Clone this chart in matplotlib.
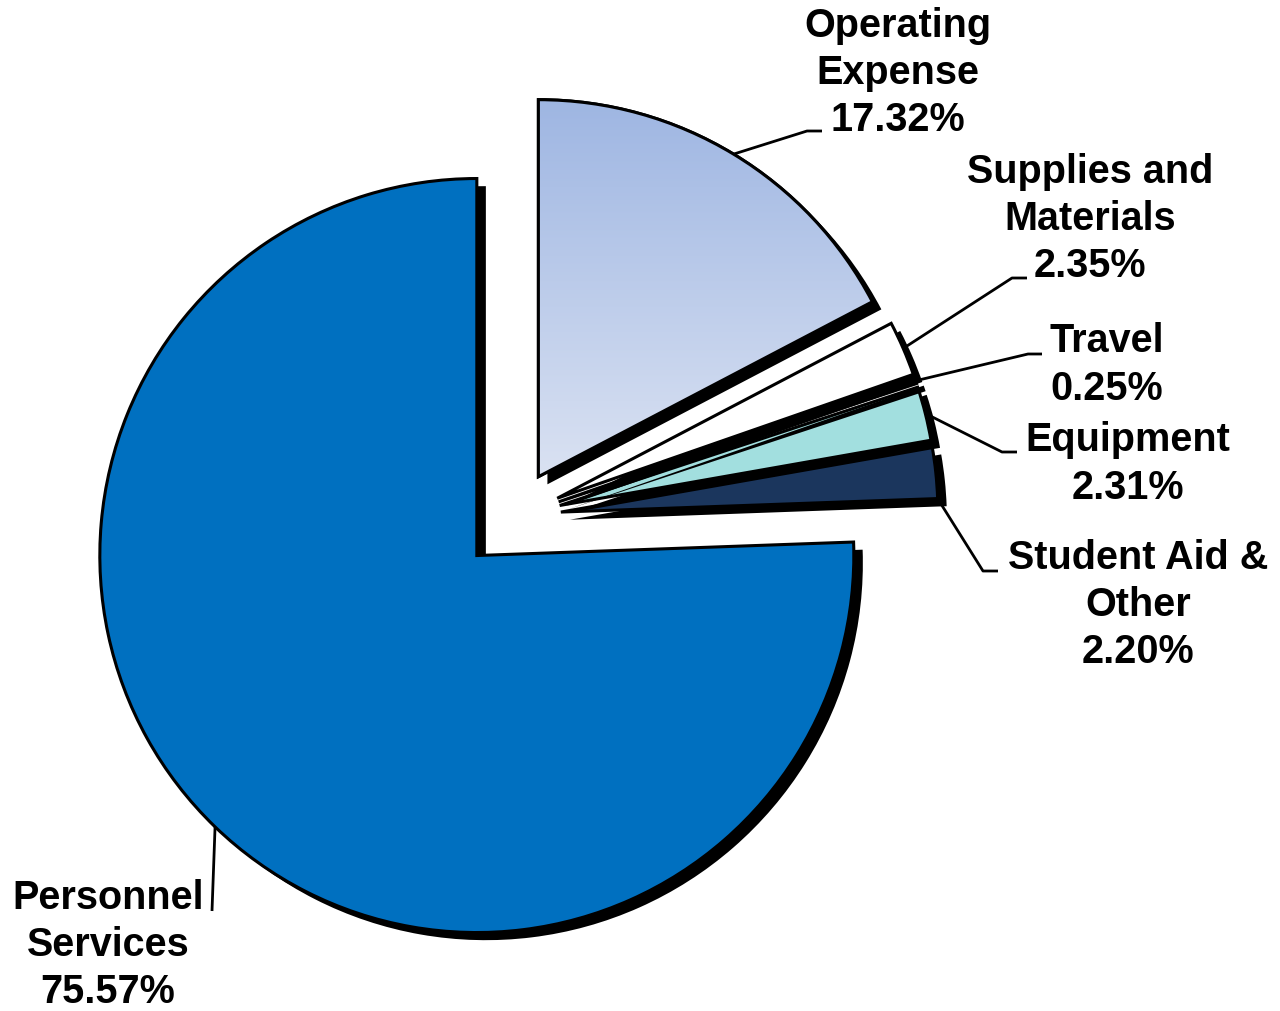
import numpy as np
import matplotlib.pyplot as plt
import matplotlib.patheffects as pe
from matplotlib.patches import Wedge
from matplotlib.colors import LinearSegmentedColormap

# data (counter-clockwise from 12 o'clock)
categories = ['Personnel\nServices', 'Student Aid &\nOther', 'Equipment',
              'Travel', 'Supplies and\nMaterials', 'Operating\nExpense']
shares = [75.57, 2.20, 2.31, 0.25, 2.35, 17.32]
colors = ['#0070C0', '#1B365D', '#A2DFDF', '#FF0000', '#FFFFFF', '#B9C9EA']
explode = [0.142, 0.125, 0.125, 0.125, 0.125, 0.125]

# layout in pixel coords of the 1280x1012 image
W, H = 1280, 1012
CX, CY, R = 514, 518, 377


def px(x, y):
    return (x - CX) / R, (CY - y) / R


# label centre, leader elbow, leader end, anchor fraction in the wedge
label_pos = [(108, 945), (1138, 605), (1128, 464), (1107, 365), (1090, 219), (898, 73)]
elbows = [(212, 912), (983, 572), (1002, 453), (1028, 355), (1012, 279), (807, 132)]
ends = [(212, 912), (998, 572), (1017, 453), (1042, 355), (1027, 279), (822, 132)]
anchor_frac = [0.5, 0.0, 0.5, 0.5, 0.5, 0.5]

plt.rcParams['font.family'] = ['Liberation Sans', 'DejaVu Sans']

fig = plt.figure(figsize=(W / 100, H / 100), dpi=100)
ax = fig.add_axes([0, 0, 1, 1])

shadow = [pe.SimplePatchShadow(offset=(6.5, -5.5), shadow_rgbFace='black', alpha=1.0), pe.Normal()]
wedges, _ = ax.pie(shares, colors=colors, startangle=90, counterclock=True,
                   explode=explode, radius=1,
                   wedgeprops=dict(edgecolor='black', linewidth=2.2, path_effects=shadow))

# gradient fill for Operating Expense
op = wedges[-1]
cx, cy = op.center
grad = np.linspace(0, 1, 256).reshape(-1, 1)
cmap = LinearSegmentedColormap.from_list('op', ['#DDE4F3', '#9DB5E2'])
im = ax.imshow(grad, extent=[cx - 0.05, cx + op.r + 0.05, cy - 0.05, cy + op.r + 0.02],
               origin='lower', cmap=cmap, aspect='auto', zorder=op.get_zorder() + 0.1)
im.set_clip_path(op)
ax.add_patch(Wedge(op.center, op.r, op.theta1, op.theta2, fill=False,
                   edgecolor='black', linewidth=2.2, zorder=op.get_zorder() + 0.2))

# labels and leader lines
for w, name, val, lp, el, en, fr in zip(wedges, categories, shares, label_pos, elbows, ends, anchor_frac):
    ang = np.deg2rad(w.theta1 + fr * (w.theta2 - w.theta1))
    ax0 = w.center[0] + w.r * np.cos(ang)
    ay0 = w.center[1] + w.r * np.sin(ang)
    e1 = px(*el)
    e2 = px(*en)
    ax.plot([ax0, e1[0], e2[0]], [ay0, e1[1], e2[1]], color='black', lw=2.0,
            solid_capstyle='butt', zorder=5)
    tx, ty = px(*lp)
    ax.text(tx, ty, f'{name}\n{val:.2f}%', ha='center', va='center',
            multialignment='center', fontsize=28.5, fontweight='bold',
            linespacing=1.31, zorder=6)

ax.set_xlim(-CX / R, (W - CX) / R)
ax.set_ylim((CY - H) / R, CY / R)
ax.set_aspect('equal')
ax.axis('off')

fig.savefig('out.png', dpi=100, facecolor='white')
